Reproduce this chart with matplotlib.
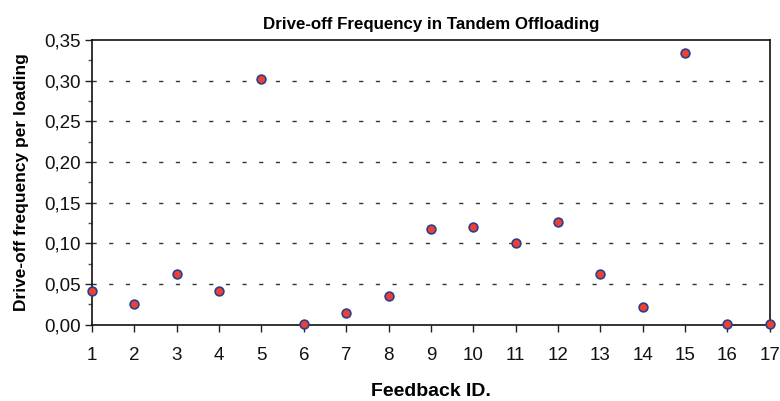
import numpy as np
import matplotlib.pyplot as plt
from matplotlib.ticker import MultipleLocator, FuncFormatter

plt.rcParams['font.family'] = ['Liberation Sans', 'DejaVu Sans']

# Data
feedback_id = [1, 2, 3, 4, 5, 6, 7, 8, 9, 10, 11, 12, 13, 14, 15, 16, 17]
drive_off_freq = [0.041, 0.026, 0.062, 0.041, 0.302, 0.001, 0.014, 0.035, 0.118,
                  0.120, 0.101, 0.126, 0.062, 0.022, 0.334, 0.001, 0.001]

fig = plt.figure(figsize=(7.8, 4.01), dpi=100)
ax = fig.add_axes([0.118, 0.19, 0.869, 0.71])

ax.plot(feedback_id, drive_off_freq, linestyle='none', marker='o', markersize=6.3,
        markerfacecolor='#EE4030', markeredgecolor='#2A3F92', markeredgewidth=1.2,
        clip_on=False, zorder=3)

ax.set_xlim(1, 17)
ax.set_ylim(0, 0.35)
ax.set_xticks(feedback_id)
ax.yaxis.set_major_locator(MultipleLocator(0.05))
ax.yaxis.set_minor_locator(MultipleLocator(0.025))
ax.yaxis.set_major_formatter(FuncFormatter(lambda v, p: f'{v:.2f}'.replace('.', ',')))

ax.tick_params(axis='both', which='major', labelsize=13.5, direction='out',
               length=5, width=1, colors='#222222', labelcolor='#111111')
ax.tick_params(axis='x', which='major', pad=11)
ax.tick_params(axis='y', which='major', pad=3)
ax.tick_params(axis='y', which='minor', direction='out', length=3, width=1, colors='#555555')
for s in ax.spines.values():
    s.set_linewidth(1.2)
    s.set_color('#111111')

# dashed horizontal gridlines
for v in np.arange(0.05, 0.31, 0.05):
    ax.axhline(v, color='#333333', linewidth=1.0, dashes=(3, 9), zorder=1)

ax.set_title('Drive-off Frequency in Tandem Offloading', fontsize=12.2, fontweight='bold', pad=8)
ax.set_xlabel('Feedback ID.', fontsize=14, fontweight='bold', labelpad=14)
ax.set_ylabel('Drive-off frequency per loading', fontsize=12.5, fontweight='bold', labelpad=11)

plt.savefig('out.png', dpi=100)
